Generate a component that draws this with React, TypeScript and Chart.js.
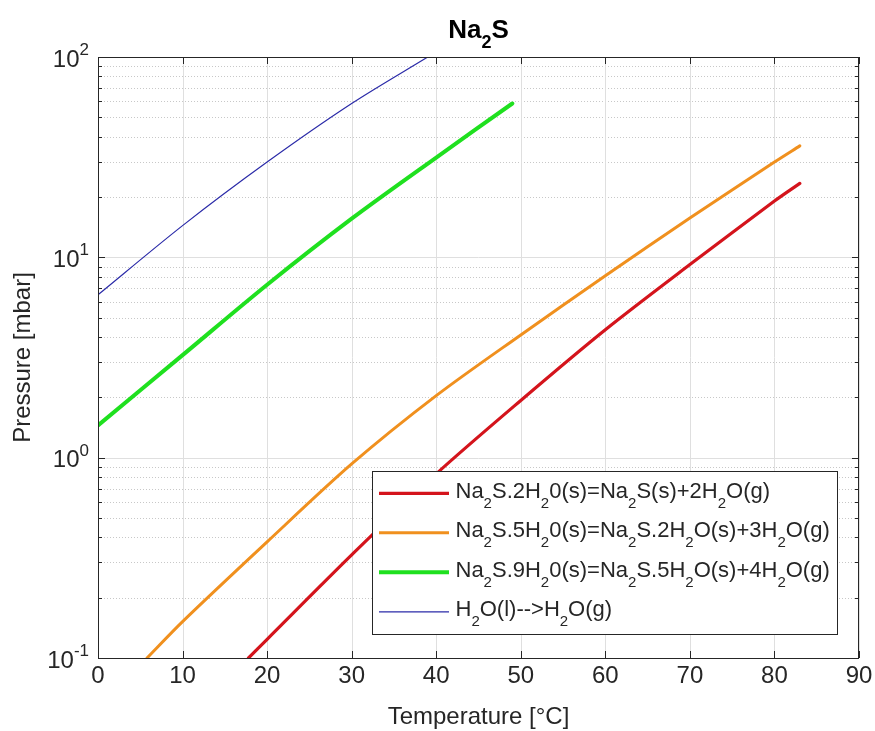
import React, { useEffect, useRef } from 'react';
import { Chart, registerables } from 'chart.js';
Chart.register(...registerables);

// ---------- data ----------
const redT = [17.8, 20, 30, 40, 50, 60, 70, 80, 83];
const redP = [0.1, 0.124, 0.327, 0.83, 1.93, 4.35, 9.2, 19.1, 23.4];
const orangeT = [5.8, 10, 20, 30, 40, 50, 60, 70, 80, 83];
const orangeP = [0.1, 0.152, 0.38, 0.93, 2.04, 4.1, 8.1, 15.7, 29.9, 36];
const greenT = [0, 10, 20, 30, 40, 49];
const greenP = [1.45, 3.25, 7.3, 15.6, 31.5, 58.6];
const blueT = [0, 10, 20, 30, 39];
const blueP = [6.5, 14.4, 29.9, 58.6, 100];

const seriesLabels = [
  'Na_2S.2H_20(s)=Na_2S(s)+2H_2O(g)',
  'Na_2S.5H_20(s)=Na_2S.2H_2O(s)+3H_2O(g)',
  'Na_2S.9H_20(s)=Na_2S.5H_2O(s)+4H_2O(g)',
  'H_2O(l)-->H_2O(g)',
];
const titleText = 'Na_2S';
const xLabel = 'Temperature [°C]';
const yLabel = 'Pressure [mbar]';
const xTicks = [0, 10, 20, 30, 40, 50, 60, 70, 80, 90];
const yTicks = [0.1, 1, 10, 100];
const yTickLabels = ['10^{-1}', '10^{0}', '10^{1}', '10^{2}'];

const FONT = '"Liberation Sans", Arial, Helvetica, sans-serif';
const TXT = '#262626';

type Seg = { t: string; k: number };
function parseRich(s: string): Seg[] {
  const out: Seg[] = [];
  let buf = '';
  for (let i = 0; i < s.length; i++) {
    const c = s[i];
    if (c === '_' || c === '^') {
      if (buf) { out.push({ t: buf, k: 0 }); buf = ''; }
      let t = '';
      if (s[i + 1] === '{') { const j = s.indexOf('}', i + 2); t = s.slice(i + 2, j); i = j; }
      else { t = s[i + 1]; i++; }
      out.push({ t, k: c === '_' ? 1 : 2 });
    } else buf += c;
  }
  if (buf) out.push({ t: buf, k: 0 });
  return out;
}

function drawRich(ctx: CanvasRenderingContext2D, s: string, x: number, y: number, o: any) {
  const segs = parseRich(s);
  const fontOf = (k: number) => `${o.bold ? 'bold ' : ''}${k === 0 ? o.size : o.small}px ${FONT}`;
  let w = 0;
  const ws = segs.map((sg) => { ctx.font = fontOf(sg.k); const m = ctx.measureText(sg.t).width; w += m; return m; });
  let cx = o.align === 'left' ? x : o.align === 'center' ? x - w / 2 : x - w;
  ctx.textAlign = 'left';
  ctx.textBaseline = 'alphabetic';
  ctx.fillStyle = o.color || TXT;
  segs.forEach((sg, i) => {
    ctx.font = fontOf(sg.k);
    const dy = sg.k === 1 ? o.drop : sg.k === 2 ? -o.rise : 0;
    ctx.fillText(sg.t, cx, y + dy);
    cx += ws[i];
  });
}

const decorPlugin = {
  id: 'matlabDecor',
  beforeDatasetsDraw(chart: any) {
    const { ctx, chartArea: a, scales } = chart;
    const xs = scales.x, ys = scales.y;
    ctx.save();
    // minor y grid (dotted)
    ctx.strokeStyle = '#c8c8c8';
    ctx.lineWidth = 1;
    ctx.setLineDash([1, 2]);
    for (let d = 0; d < yTicks.length - 1; d++) {
      for (let m = 2; m <= 9; m++) {
        const py = Math.round(ys.getPixelForValue(yTicks[d] * m)) + 0.5;
        ctx.beginPath(); ctx.moveTo(a.left, py); ctx.lineTo(a.right, py); ctx.stroke();
      }
    }
    ctx.setLineDash([]);
    // major grid
    ctx.strokeStyle = '#dfdfdf';
    yTicks.forEach((v) => {
      const py = Math.round(ys.getPixelForValue(v)) + 0.5;
      ctx.beginPath(); ctx.moveTo(a.left, py); ctx.lineTo(a.right, py); ctx.stroke();
    });
    xTicks.forEach((v) => {
      const px = Math.round(xs.getPixelForValue(v)) + 0.5;
      ctx.beginPath(); ctx.moveTo(px, a.top); ctx.lineTo(px, a.bottom); ctx.stroke();
    });
    ctx.restore();
  },
  afterDatasetsDraw(chart: any) {
    const { ctx, chartArea: a, scales } = chart;
    const xs = scales.x, ys = scales.y;
    ctx.save();
    // legend
    const lw = 465, lh = 163;
    const lx = a.right - 22 - lw, ly = a.bottom - 24 - lh;
    ctx.fillStyle = '#ffffff';
    ctx.fillRect(lx, ly, lw, lh);
    ctx.strokeStyle = TXT;
    ctx.lineWidth = 1;
    ctx.strokeRect(Math.round(lx) + 0.5, Math.round(ly) + 0.5, lw, lh);
    chart.data.datasets.forEach((ds: any, i: number) => {
      const rowY = ly + 22.3 + i * 39.5;
      ctx.strokeStyle = ds.borderColor;
      ctx.lineWidth = ds.borderWidth;
      ctx.beginPath(); ctx.moveTo(lx + 7, rowY); ctx.lineTo(lx + 77, rowY); ctx.stroke();
      drawRich(ctx, ds.label, lx + 83.5, rowY + 4.5, { size: 22, small: 15, drop: 10, rise: 0, align: 'left' });
    });
    // axes box
    ctx.strokeStyle = TXT;
    ctx.lineWidth = 1;
    ctx.strokeRect(a.left + 0.5, a.top + 0.5, a.right - a.left - 1, a.bottom - a.top);
    // ticks
    ctx.beginPath();
    xTicks.forEach((v) => {
      const px = Math.round(xs.getPixelForValue(v)) + 0.5;
      ctx.moveTo(px, a.bottom); ctx.lineTo(px, a.bottom - 7);
      ctx.moveTo(px, a.top); ctx.lineTo(px, a.top + 7);
    });
    yTicks.forEach((v) => {
      const py = Math.round(ys.getPixelForValue(v)) + 0.5;
      ctx.moveTo(a.left, py); ctx.lineTo(a.left + 7, py);
      ctx.moveTo(a.right, py); ctx.lineTo(a.right - 7, py);
    });
    for (let d = 0; d < yTicks.length - 1; d++) {
      for (let m = 2; m <= 9; m++) {
        const py = Math.round(ys.getPixelForValue(yTicks[d] * m)) + 0.5;
        ctx.moveTo(a.left, py); ctx.lineTo(a.left + 4, py);
        ctx.moveTo(a.right, py); ctx.lineTo(a.right - 4, py);
      }
    }
    ctx.stroke();
    // tick labels
    ctx.fillStyle = TXT;
    ctx.font = `24px ${FONT}`;
    ctx.textAlign = 'center';
    ctx.textBaseline = 'alphabetic';
    xTicks.forEach((v) => {
      ctx.fillText(String(v), xs.getPixelForValue(v), a.bottom + 25);
    });
    yTicks.forEach((v, i) => {
      drawRich(ctx, yTickLabels[i], a.left - 9, ys.getPixelForValue(v) + 9.5, { size: 24, small: 17, drop: 0, rise: 11.5, align: 'right' });
    });
    // axis labels
    ctx.fillStyle = TXT;
    ctx.font = `24px ${FONT}`;
    ctx.textAlign = 'center';
    ctx.fillText(xLabel, (a.left + a.right) / 2, a.bottom + 66);
    ctx.save();
    ctx.translate(30, (a.top + a.bottom) / 2);
    ctx.rotate(-Math.PI / 2);
    ctx.fillText(yLabel, 0, 0);
    ctx.restore();
    // title
    drawRich(ctx, titleText, (a.left + a.right) / 2, 38, { size: 26, small: 18, drop: 10, rise: 0, align: 'center', bold: true, color: '#000000' });
    ctx.restore();
  },
};

const toPts = (xs: number[], ys: number[]) => xs.map((x, i) => ({ x, y: ys[i] }));

export default function App() {
  const ref = useRef<HTMLCanvasElement>(null);
  useEffect(() => {
    const mk = (label: string, t: number[], p: number[], color: string, w: number) => ({
      label, data: toPts(t, p), borderColor: color, backgroundColor: color, borderWidth: w,
      pointRadius: 0, fill: false, tension: 0.3, borderCapStyle: 'round' as const,
    });
    const chart = new Chart(ref.current!, {
      type: 'line',
      data: {
        datasets: [
          mk(seriesLabels[0], redT, redP, '#d4141c', 3.2),
          mk(seriesLabels[1], orangeT, orangeP, '#f0901e', 3),
          mk(seriesLabels[2], greenT, greenP, '#1fe01f', 4),
          mk(seriesLabels[3], blueT, blueP, '#2a2aa8', 1.2),
        ],
      },
      options: {
        animation: false,
        responsive: false,
        layout: { padding: { left: 98, top: 57, right: 16, bottom: 73 } },
        scales: {
          x: { type: 'linear', min: 0, max: 90, display: false },
          y: { type: 'logarithmic', min: 0.1, max: 100, display: false },
        },
        plugins: { legend: { display: false }, title: { display: false }, tooltip: { enabled: false } },
      },
      plugins: [decorPlugin],
    } as any);
    return () => chart.destroy();
  }, []);
  return (
    <div style={{ position: 'absolute', left: 0, top: 0, width: 875, height: 731, background: '#fff' }}>
      <canvas ref={ref} width={875} height={731} style={{ display: 'block' }} />
    </div>
  );
}
